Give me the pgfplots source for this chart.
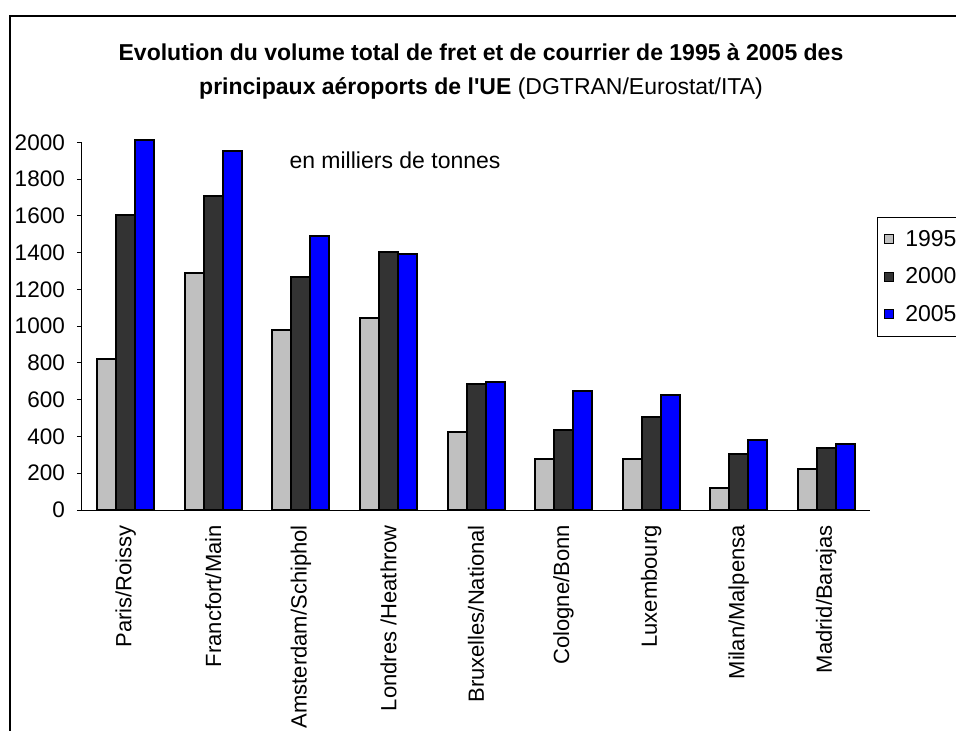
\documentclass[border=0pt]{standalone}
\usepackage{fontspec}
\setmainfont{Liberation Sans}[Ligatures=TeXOff]
\usepackage{pgfplots}
\pgfplotsset{compat=1.18}
\definecolor{c95}{RGB}{192,192,192}
\definecolor{c00}{RGB}{51,51,51}
\definecolor{c05}{RGB}{0,0,255}
\begin{document}
\begin{tikzpicture}
\path[use as bounding box] (0pt,0pt) rectangle (956pt,-731pt);
\draw[line width=2pt] (10pt,-740pt) -- (10pt,-16pt) -- (970pt,-16pt);
\node[font=\fontsize{23}{27}\selectfont\bfseries] at (481pt,-52pt) {Evolution du volume total de fret et de courrier de 1995 à 2005 des};
\node[font=\fontsize{23}{27}\selectfont] at (481pt,-88pt) {\textbf{principaux aéroports de l'UE} (DGTRAN/Eurostat/ITA)};
\node[font=\fontsize{23}{27}\selectfont] at (395pt,-160pt) {en milliers de tonnes};
\begin{axis}[
  at={(82pt,-510pt)}, anchor=south west,
  scale only axis, width=788pt, height=367.7pt,
  xmin=-0.5, xmax=8.5, ymin=0, ymax=2000,
  clip=false,
  axis x line*=bottom, axis y line*=left,
  axis line style={line width=1pt, -},
  ytick={0,200,...,2000},
  xtick={0,...,8},
  xticklabels={Paris/Roissy,Francfort/Main,Amsterdam/Schiphol,Londres /Heathrow,Bruxelles/National,Cologne/Bonn,Luxembourg,Milan/Malpensa,Madrid/Barajas},
  x tick style={draw=none},
  extra x ticks={-0.5,0.5,...,8.5},
  extra x tick labels={},
  extra x tick style={tick align=outside, major tick length=5pt, tick style={line width=1pt, draw=black}},
  y tick style={line width=1pt, black},
  ytick align=outside, major tick length=5pt,
  /pgf/number format/assume math mode=true,
  /pgf/number format/set thousands separator={},
  yticklabel style={font=\fontsize{22.5}{26}\selectfont, anchor=east, inner sep=0pt},
  yticklabel shift=12pt,
  xticklabel style={font=\fontsize{22}{26}\selectfont, rotate=90, anchor=east, inner sep=0pt},
  xticklabel shift=10pt,
  ybar=0pt, bar width=19pt,
  legend style={at={(1.0085,0.797)}, anchor=north west, draw=black, line width=0.8pt,
    font=\fontsize{23}{27}\selectfont, inner xsep=7pt, inner ysep=11pt, row sep=16pt,
    column sep=9pt, cells={anchor=west}},
  legend image code/.code={\draw[#1, line width=1.2pt] (0pt,-4.5pt) rectangle (9pt,4.5pt);},
]
\addplot[fill=c95, draw=black, line width=2pt] coordinates {(0,820) (1,1290) (2,977) (3,1043) (4,426) (5,279) (6,279) (7,121) (8,223)};
\addplot[fill=c00, draw=black, line width=2pt] coordinates {(0,1605) (1,1707) (2,1268) (3,1402) (4,685) (5,437) (6,504) (7,302) (8,337)};
\addplot[fill=c05, draw=black, line width=2pt] coordinates {(0,2010) (1,1953) (2,1493) (3,1391) (4,696) (5,650) (6,627) (7,380) (8,357)};
\legend{1995,2000,2005}
\end{axis}
\end{tikzpicture}
\end{document}
